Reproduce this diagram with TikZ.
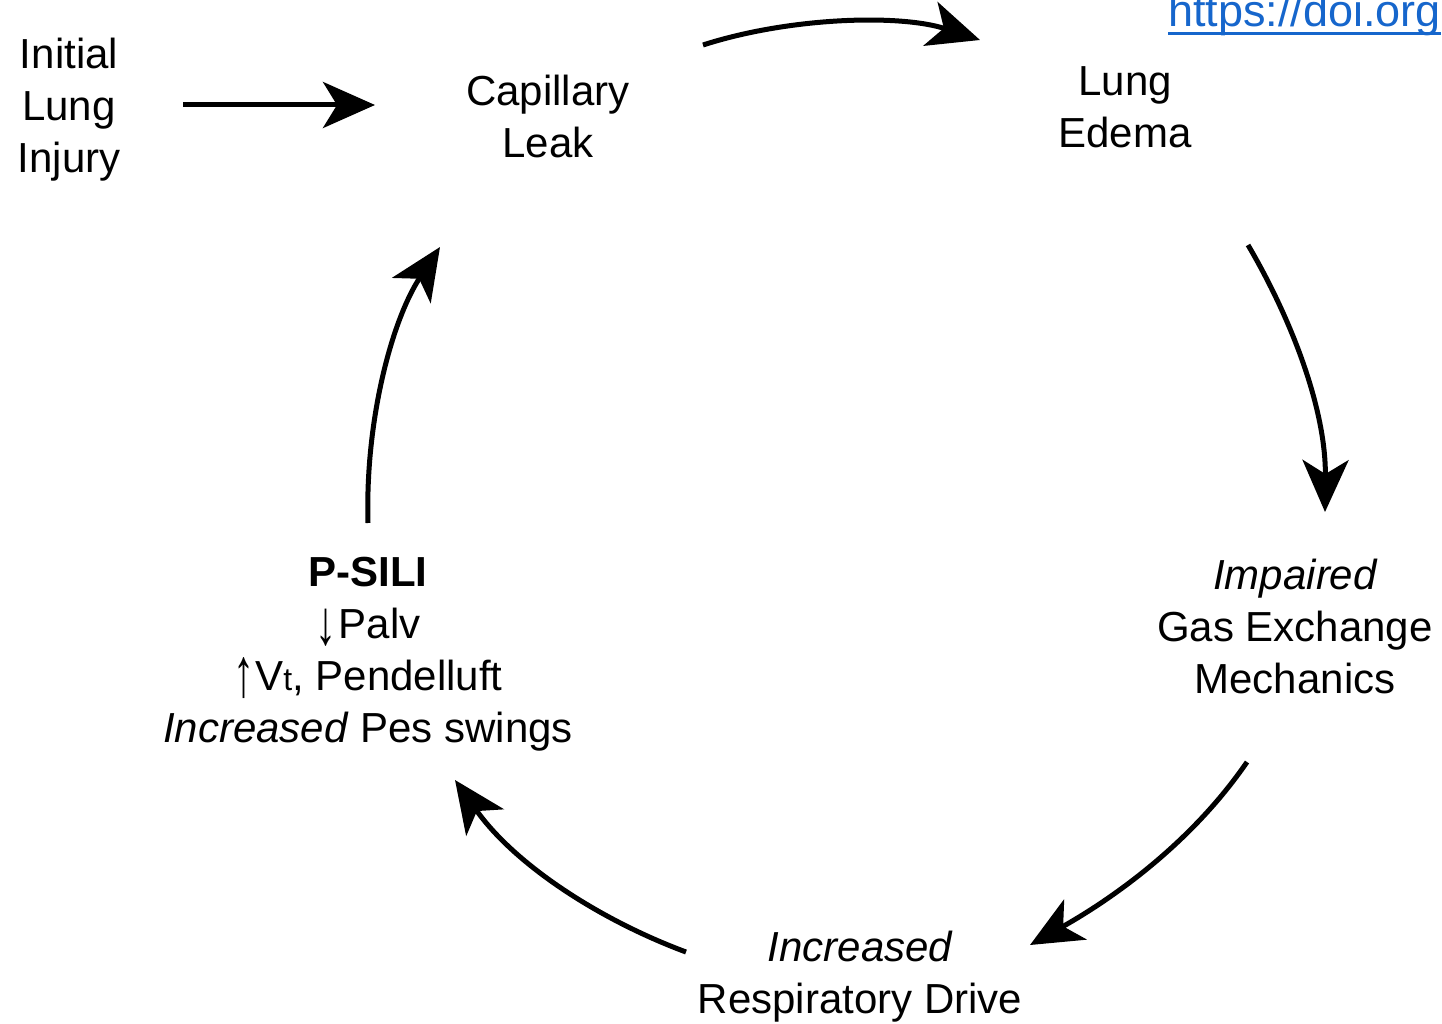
\documentclass[tikz,border=0pt]{standalone}
\usepackage{graphicx}
\usepackage{fontspec}
\setmainfont{Liberation Sans}
\usetikzlibrary{arrows.meta}
\definecolor{urlblue}{RGB}{22,102,204}
\newcommand{\dnarr}{\raisebox{-6pt}{\scalebox{1}[1.5]{↓}}\kern2pt}
\newcommand{\uparr}{\raisebox{-6pt}{\scalebox{1}[1.65]{↑}}\kern1pt}
\tikzset{
  lbl/.style={align=center, inner sep=0pt, font=\fontsize{42}{52}\selectfont},
  flow/.style={line width=5pt, -{Stealth[length=52pt,width=46pt,inset=14pt]}},
}
\begin{document}
\begin{tikzpicture}[x=1pt,y=-1pt]
\clip (0,0) rectangle (1442,1024);
\fill[white] (0,0) rectangle (1442,1024);
% text nodes
\node[lbl] (init) at (69,110) {Initial\\Lung\\Injury};
\node[lbl] (cap) at (548,116) {Capillary\\Leak};
\node[lbl] (edema) at (1125,107) {Lung\\Edema};
\node[lbl] (gas) at (1295,626) {\itshape Impaired\\Gas Exchange\\Mechanics};
\node[lbl] (drive) at (860,977) {\itshape Increased\\Respiratory Drive};
\node[lbl] (psili) at (368,654) {\bfseries P-SILI\\\dnarr Palv\\\uparr V{\fontsize{32}{32}\selectfont t}, Pendelluft\\\textit{Increased} Pes swings};
\node[inner sep=0pt, anchor=base west, text=urlblue, font=\fontsize{45}{46}\selectfont] (url) at (1168,27) {https://doi.org};
\draw[urlblue, line width=3pt] ([yshift=-7pt]url.base west) -- ([yshift=-7pt]url.base east);
% connector end points
\coordinate (a1s) at (183,105); \coordinate (a1e) at (375,105);
\coordinate (a2s) at (703,45);  \coordinate (a2e) at (980,40);
\coordinate (a3s) at (1248,245); \coordinate (a3e) at (1325,512);
\coordinate (a4s) at (1247,762); \coordinate (a4e) at (1030,945);
\coordinate (a5s) at (686,952); \coordinate (a5e) at (455,780);
\coordinate (a6s) at (368,523); \coordinate (a6e) at (440,247);
% connectors
\draw[flow] (a1s) -- (a1e);
\draw[flow] (a2s) .. controls (790,17) and (900,14) .. (a2e);
\draw[flow] (a3s) .. controls (1292,320) and (1326,410) .. (a3e);
\draw[flow] (a4s) .. controls (1190,845) and (1110,900) .. (a4e);
\draw[flow] (a5s) .. controls (600,920) and (515,865) .. (a5e);
\draw[flow] (a6s) .. controls (365,420) and (392,320) .. (a6e);
\end{tikzpicture}
\end{document}
